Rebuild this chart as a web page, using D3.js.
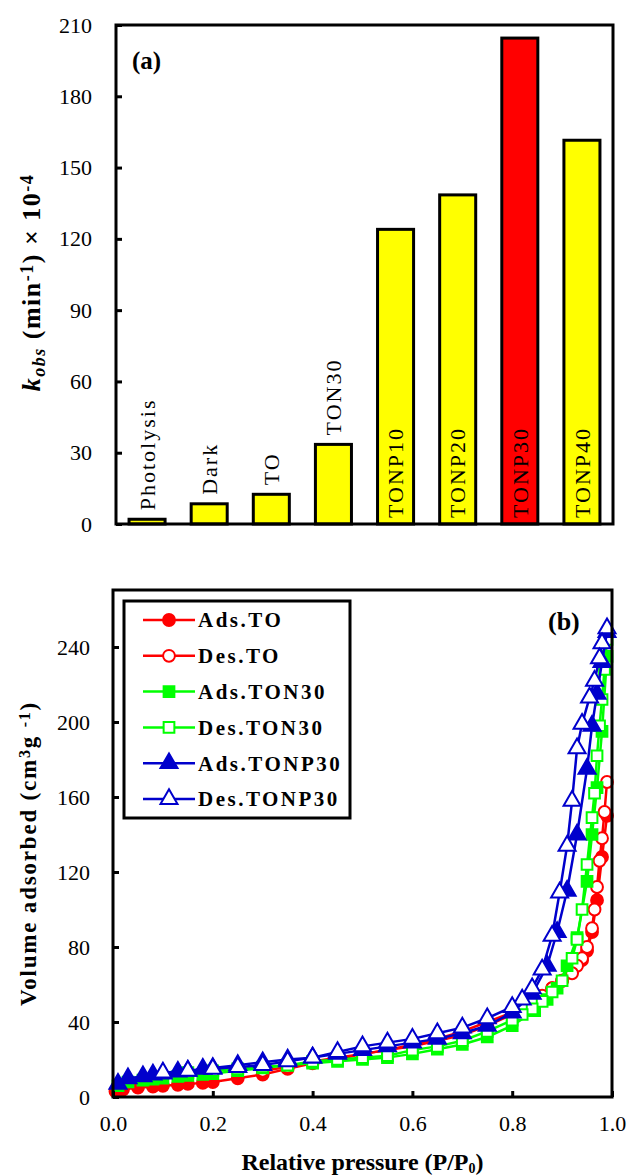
<!DOCTYPE html>
<html>
<head>
<meta charset="utf-8">
<script src="https://cdnjs.cloudflare.com/ajax/libs/d3/7.8.5/d3.min.js"></script>
<style>
  body { margin: 0; background: #fff; }
  text { font-family: "Liberation Serif", "Times New Roman", serif; }
</style>
</head>
<body>
<div id="graph"></div>
<script>
var width = 630,
    height = 1176

// ---- panel (a) data
var categories = ['Photolysis', 'Dark', 'TO', 'TON30', 'TONP10', 'TONP20', 'TONP30', 'TONP40']
var kobs = [2, 8.5, 12.5, 33.5, 124, 138.5, 204.5, 161.5]
var barColors = ['#ffff00', '#ffff00', '#ffff00', '#ffff00', '#ffff00', '#ffff00', '#ff0000', '#ffff00']
var labelInside = [false, false, false, false, true, true, true, true]
var kTicks = [0, 30, 60, 90, 120, 150, 180, 210]

// ---- panel (b) data (relative pressure, volume adsorbed)
var pAdsTO = [0.005, 0.02, 0.05, 0.08, 0.10, 0.13, 0.15, 0.18, 0.20, 0.25, 0.30, 0.35, 0.40, 0.45, 0.50, 0.55, 0.60, 0.65, 0.70, 0.75, 0.80, 0.85, 0.88, 0.90, 0.92, 0.94, 0.95, 0.96, 0.97, 0.98, 0.99]
var vAdsTO = [3, 4, 5, 5.5, 6, 6.5, 7, 7.5, 8, 10, 12, 15, 18, 20, 23, 25, 27, 30, 33, 38, 44, 52, 58, 62, 67, 73, 78, 88, 105, 128, 150]
var pDesTO = [0.99, 0.985, 0.98, 0.975, 0.97, 0.965, 0.96, 0.95, 0.94, 0.93, 0.92, 0.90, 0.88, 0.86, 0.84, 0.82, 0.80, 0.75, 0.70, 0.65, 0.60, 0.55, 0.50, 0.45, 0.40, 0.35, 0.30]
var vDesTO = [168, 152, 138, 126, 112, 100, 90, 80, 74, 70, 66, 62, 58, 54, 51, 48, 45, 40, 35, 31, 28, 25, 23, 21, 19, 16, 14]

var pAdsTON30 = [0.01, 0.03, 0.06, 0.08, 0.10, 0.13, 0.15, 0.18, 0.20, 0.25, 0.30, 0.35, 0.40, 0.45, 0.50, 0.55, 0.60, 0.65, 0.70, 0.75, 0.80, 0.845, 0.87, 0.89, 0.91, 0.93, 0.95, 0.96, 0.97, 0.98, 0.99]
var vAdsTON30 = [6, 8, 9, 9.5, 10, 11, 11.5, 12, 12.5, 14, 15.5, 17, 18, 19, 20, 21, 23, 25.5, 28, 32, 38, 46, 52, 58, 70, 85, 115, 140, 165, 195, 235]
var pDesTON30 = [0.99, 0.985, 0.98, 0.975, 0.97, 0.965, 0.96, 0.95, 0.94, 0.93, 0.92, 0.90, 0.88, 0.86, 0.84, 0.82, 0.80, 0.75, 0.70, 0.65, 0.60, 0.55, 0.50, 0.45, 0.40, 0.35, 0.30, 0.25, 0.20, 0.15]
var vDesTON30 = [244, 228, 212, 198, 182, 162, 149, 124, 100, 84, 74, 62, 56, 51, 47, 44, 41, 35, 30, 27, 25, 22, 21, 20, 19, 17, 16, 15, 14, 13]

var pAdsTONP30 = [0.01, 0.03, 0.06, 0.08, 0.10, 0.13, 0.15, 0.18, 0.20, 0.25, 0.30, 0.35, 0.40, 0.45, 0.50, 0.55, 0.60, 0.65, 0.70, 0.75, 0.80, 0.84, 0.87, 0.89, 0.91, 0.93, 0.95, 0.96, 0.97, 0.98, 0.99]
var vAdsTONP30 = [7, 10, 11, 12, 12.5, 13.5, 14, 15, 15.5, 17, 18.5, 20, 21, 23, 25, 27, 29, 31, 34, 38, 45, 55, 70, 88, 110, 140, 175, 198, 215, 232, 248]
var pDesTONP30 = [0.99, 0.98, 0.975, 0.965, 0.955, 0.94, 0.93, 0.92, 0.91, 0.895, 0.88, 0.86, 0.84, 0.82, 0.80, 0.75, 0.70, 0.65, 0.60, 0.55, 0.50, 0.45, 0.40, 0.35, 0.30, 0.25, 0.20, 0.15, 0.10]
var vDesTONP30 = [250, 242, 234, 222, 213, 199, 186, 158, 134, 109, 86, 68, 58, 52, 48, 42, 37, 34, 31, 29, 27, 24, 21, 19, 17, 16, 15, 14, 13]

var seriesNames = ['Ads.TO', 'Des.TO', 'Ads.TON30', 'Des.TON30', 'Ads.TONP30', 'Des.TONP30']
var seriesColors = ['#ff0000', '#ff0000', '#00ff00', '#00ff00', '#0000cc', '#0000cc']
var seriesShapes = ['circle', 'circle', 'square', 'square', 'triangle', 'triangle']
var seriesFilled = [true, false, true, false, true, false]
var seriesP = [pAdsTO, pDesTO, pAdsTON30, pDesTON30, pAdsTONP30, pDesTONP30]
var seriesV = [vAdsTO, vDesTO, vAdsTON30, vDesTON30, vAdsTONP30, vDesTONP30]
var pTicks = [0, 0.2, 0.4, 0.6, 0.8, 1.0]
var vTicks = [0, 40, 80, 120, 160, 200, 240]

var svg = d3.select('#graph')
  .append('svg')
  .attr('width', width)
  .attr('height', height)
svg.append('rect').attr('width', width).attr('height', height).attr('fill', '#fff')

// ================= panel (a)
var a = {left: 116, right: 613, top: 25, bottom: 524}
var x1 = d3.scaleBand().domain(categories).range([a.left, a.right]).paddingInner(0.42).paddingOuter(0.21)
var y1 = d3.scaleLinear().domain([0, 210]).range([a.bottom, a.top])

var ga = svg.append('g')
ga.selectAll('rect.bar')
  .data(categories)
  .enter().append('rect')
  .attr('class', 'bar')
  .attr('x', function(d) { return x1(d) })
  .attr('width', x1.bandwidth())
  .attr('y', function(d, i) { return y1(kobs[i]) })
  .attr('height', function(d, i) { return y1(0) - y1(kobs[i]) })
  .attr('fill', function(d, i) { return barColors[i] })
  .attr('stroke', '#000')
  .attr('stroke-width', 3)

// category names, rotated, above small bars / inside tall bars
ga.selectAll('text.blab')
  .data(categories)
  .enter().append('text')
  .attr('class', 'blab')
  .attr('transform', function(d, i) {
    var cx = x1(d) + x1.bandwidth() / 2
    var yy = labelInside[i] ? y1(0) - 6 : y1(kobs[i]) - 9
    return 'translate(' + cx + ',' + yy + ') rotate(-90)'
  })
  .attr('dy', '0.35em')
  .attr('font-size', 22)
  .attr('letter-spacing', 2)
  .attr('fill', '#000')
  .text(function(d) { return d })

// box
ga.append('rect')
  .attr('x', a.left).attr('y', a.top)
  .attr('width', a.right - a.left).attr('height', a.bottom - a.top)
  .attr('fill', 'none').attr('stroke', '#000').attr('stroke-width', 3)

var yAxisA = ga.append('g')
  .attr('transform', 'translate(' + a.left + ',0)')
  .call(d3.axisLeft(y1).tickValues(kTicks).tickSize(-6).tickPadding(24))
yAxisA.select('.domain').remove()
yAxisA.selectAll('line').attr('stroke-width', 3)
yAxisA.selectAll('text').attr('font-size', 22).attr('font-family', '"Liberation Serif", serif').attr('fill', '#000')

ga.append('text')
  .attr('x', 132).attr('y', 69)
  .attr('font-size', 25).attr('font-weight', 'bold')
  .text('(a)')

var ylabA = ga.append('text')
  .attr('transform', 'translate(40,' + ((a.top + a.bottom) / 2 + 8) + ') rotate(-90)')
  .attr('text-anchor', 'middle')
  .attr('font-size', 26).attr('font-weight', 'bold')
  .attr('letter-spacing', 1.5)
ylabA.append('tspan').attr('font-style', 'italic').text('k')
ylabA.append('tspan').attr('font-style', 'italic').attr('font-size', 18).attr('baseline-shift', '-25%').text('obs')
ylabA.append('tspan').text(' (min')
ylabA.append('tspan').attr('font-size', 18).attr('baseline-shift', '40%').text('-1')
ylabA.append('tspan').text(') \u00d7 10')
ylabA.append('tspan').attr('font-size', 18).attr('baseline-shift', '40%').text('-4')

// ================= panel (b)
var b = {left: 113, right: 612, top: 590, bottom: 1097}
var x2 = d3.scaleLinear().domain([0, 1]).range([b.left, b.right])
var y2 = d3.scaleLinear().domain([0, 270.4]).range([b.bottom, b.top])

var gb = svg.append('g')

function symbolPath(shape) {
  if (shape === 'circle') return d3.symbol().type(d3.symbolCircle).size(110)()
  if (shape === 'square') return d3.symbol().type(d3.symbolSquare).size(115)()
  return d3.symbol().type(d3.symbolTriangle).size(125)()
}

var line = d3.line()
  .x(function(d) { return x2(d[0]) })
  .y(function(d) { return y2(d[1]) })

seriesNames.forEach(function(name, s) {
  var pts = seriesP[s].map(function(p, i) { return [p, seriesV[s][i]] })
  var g = gb.append('g')
  g.append('path')
    .datum(pts)
    .attr('d', line)
    .attr('fill', 'none')
    .attr('stroke', seriesColors[s])
    .attr('stroke-width', 2.5)
  g.selectAll('path.m')
    .data(pts)
    .enter().append('path')
    .attr('class', 'm')
    .attr('d', symbolPath(seriesShapes[s]))
    .attr('transform', function(d) { return 'translate(' + x2(d[0]) + ',' + y2(d[1]) + ')' })
    .attr('fill', seriesFilled[s] ? seriesColors[s] : '#fff')
    .attr('stroke', seriesColors[s])
    .attr('stroke-width', 2)
})

gb.append('rect')
  .attr('x', b.left).attr('y', b.top)
  .attr('width', b.right - b.left).attr('height', b.bottom - b.top)
  .attr('fill', 'none').attr('stroke', '#000').attr('stroke-width', 3)

var yAxisB = gb.append('g')
  .attr('transform', 'translate(' + b.left + ',0)')
  .call(d3.axisLeft(y2).tickValues(vTicks).tickSize(-6).tickPadding(23))
yAxisB.select('.domain').remove()
yAxisB.selectAll('line').attr('stroke-width', 3)
yAxisB.selectAll('text').attr('font-size', 22).attr('font-family', '"Liberation Serif", serif').attr('fill', '#000')

var xAxisB = gb.append('g')
  .attr('transform', 'translate(0,' + b.bottom + ')')
  .call(d3.axisBottom(x2).tickValues(pTicks).tickFormat(d3.format('.1f')).tickSize(-6).tickPadding(18))
xAxisB.select('.domain').remove()
xAxisB.selectAll('line').attr('stroke-width', 3)
xAxisB.selectAll('text').attr('font-size', 22).attr('font-family', '"Liberation Serif", serif').attr('fill', '#000')

gb.append('text')
  .attr('x', 548).attr('y', 630)
  .attr('font-size', 26).attr('font-weight', 'bold')
  .text('(b)')

var xlabB = gb.append('text')
  .attr('x', (b.left + b.right) / 2).attr('y', 1170)
  .attr('text-anchor', 'middle')
  .attr('font-size', 24).attr('font-weight', 'bold')
xlabB.append('tspan').text('Relative pressure (P/P')
xlabB.append('tspan').attr('font-size', 14).attr('baseline-shift', '-20%').text('0')
xlabB.append('tspan').text(')')

var ylabB = gb.append('text')
  .attr('transform', 'translate(36,' + ((b.top + b.bottom) / 2 + 10) + ') rotate(-90)')
  .attr('text-anchor', 'middle')
  .attr('font-size', 23).attr('font-weight', 'bold')
  .attr('letter-spacing', 1.8)
ylabB.append('tspan').text('Volume adsorbed (cm')
ylabB.append('tspan').attr('font-size', 16).attr('baseline-shift', '40%').text('3')
ylabB.append('tspan').text('g ')
ylabB.append('tspan').attr('font-size', 16).attr('baseline-shift', '40%').text('-1')
ylabB.append('tspan').text(')')

// legend
var leg = gb.append('g')
var legRowY = d3.scaleLinear().domain([0, 5]).range([620, 799])
leg.append('rect')
  .attr('x', 124).attr('y', 601)
  .attr('width', 226).attr('height', 217)
  .attr('fill', '#fff').attr('stroke', '#000').attr('stroke-width', 3)
seriesNames.forEach(function(name, s) {
  var yy = legRowY(s)
  leg.append('line')
    .attr('x1', 143).attr('x2', 195).attr('y1', yy).attr('y2', yy)
    .attr('stroke', seriesColors[s]).attr('stroke-width', 2.5)
  leg.append('path')
    .attr('d', symbolPath(seriesShapes[s]))
    .attr('transform', 'translate(169,' + yy + ')')
    .attr('fill', seriesFilled[s] ? seriesColors[s] : '#fff')
    .attr('stroke', seriesColors[s]).attr('stroke-width', 2)
  leg.append('text')
    .attr('x', 198).attr('y', yy).attr('dy', '0.35em')
    .attr('font-size', 21).attr('font-weight', 'bold').attr('letter-spacing', 2.5)
    .text(name)
})
</script>
</body>
</html>
